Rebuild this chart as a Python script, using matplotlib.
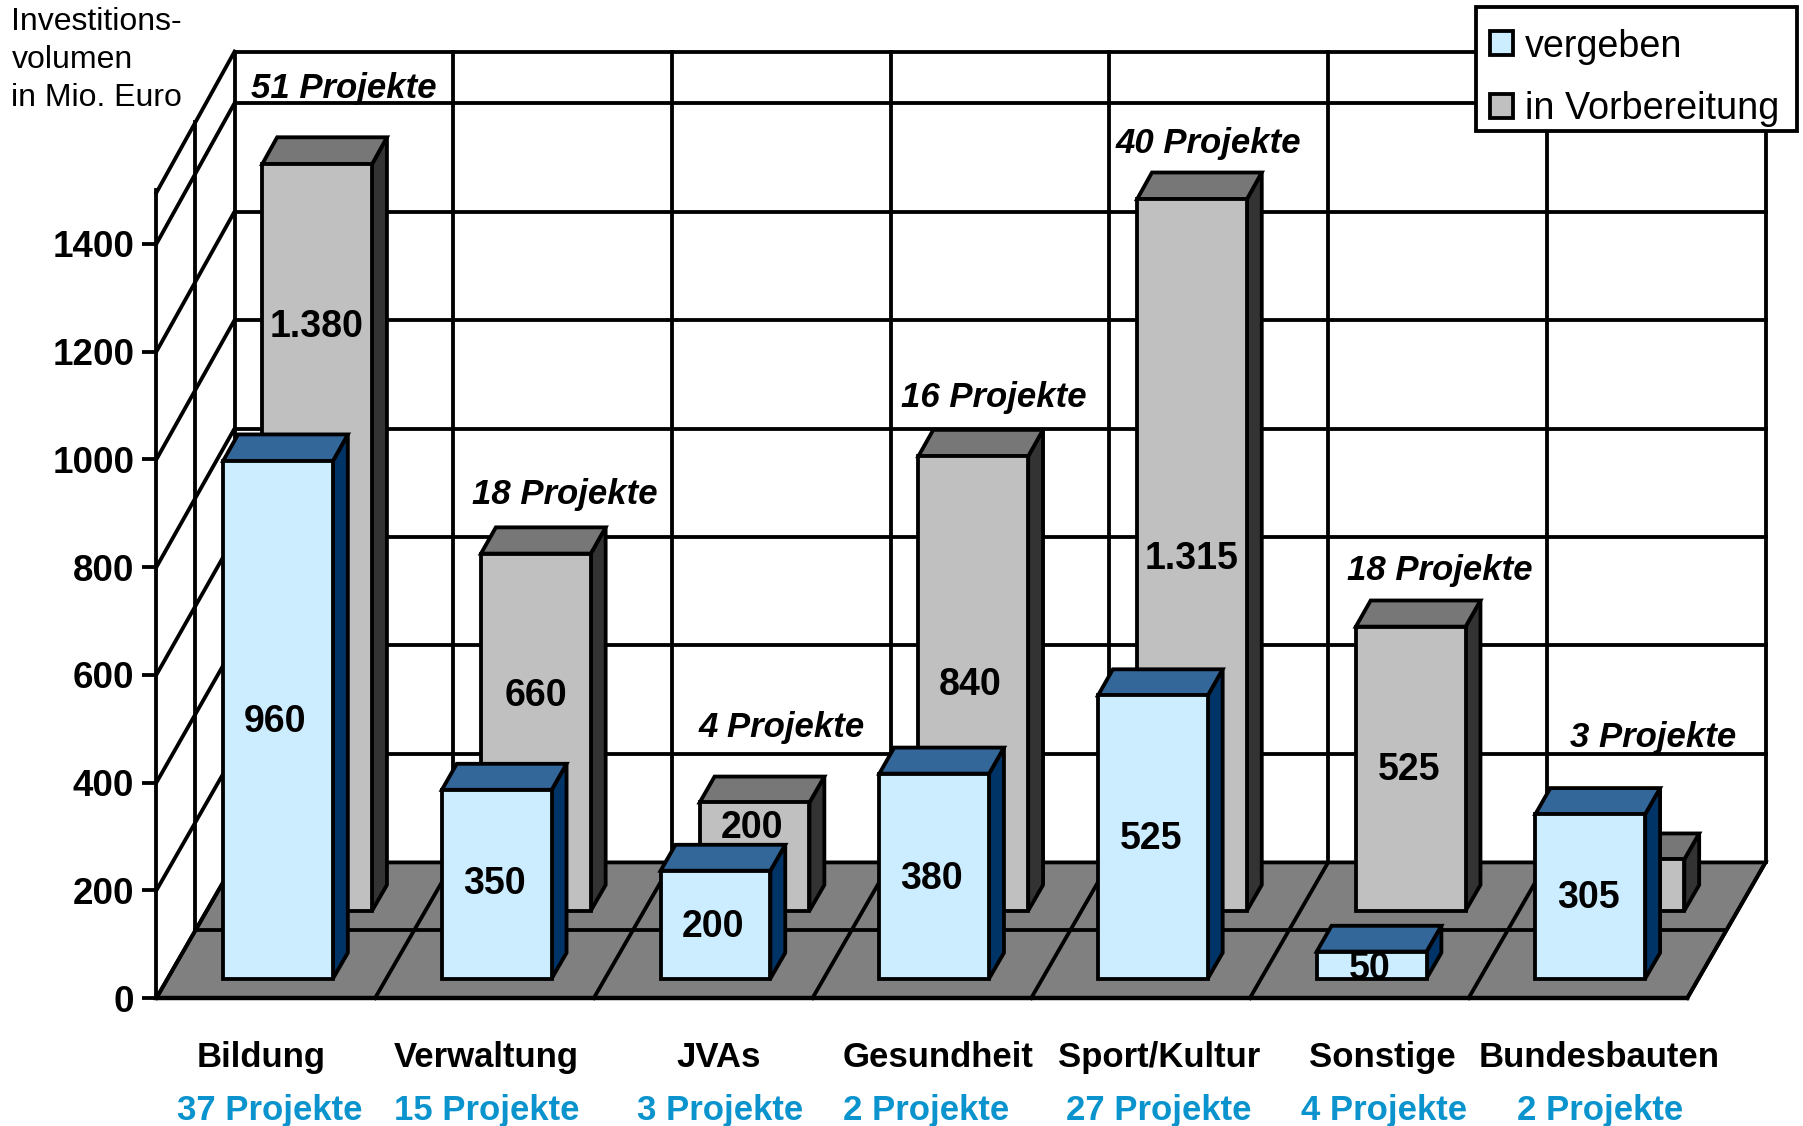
import matplotlib
matplotlib.use("Agg")
import matplotlib.pyplot as plt
from matplotlib.patches import Patch, Polygon, Rectangle

# ── Daten ─────────────────────────────────────────────────────────────────────

categories = ["Bildung", "Verwaltung", "JVAs", "Gesundheit",
              "Sport/Kultur", "Sonstige", "Bundesbauten"]
vergeben = [960, 350, 200, 380, 525, 50, 305]
vorbereitung = [1380, 660, 200, 840, 1315, 525, 95]
vergeben_labels = ["960", "350", "200", "380", "525", "50", "305"]
vorbereitung_labels = ["1.380", "660", "200", "840", "1.315", "525", ""]
projekte_vergeben = ["37 Projekte", "15 Projekte", "3 Projekte", "2 Projekte",
                     "27 Projekte", "4 Projekte", "2 Projekte"]
projekte_vorb = ["51 Projekte", "18 Projekte", "4 Projekte", "16 Projekte",
                 "40 Projekte", "18 Projekte", "3 Projekte"]
y_ticks = [0, 200, 400, 600, 800, 1000, 1200, 1400]

# ── Layout (Pixel im 1568er Bild) ─────────────────────────────────────────────

W, H, S = 1803, 1126, 1803 / 1568
CAT_PX, VAL_PX = 190.2, 0.4685
DEPTH_X, DEPTH_Y = 68 / CAT_PX, 118 / VAL_PX
PERSP = 0.0068      # hintere Ebene minimal höher skaliert
LW = 2.75
TOP = 1495

cat_label_x = [227, 423, 625, 816, 1008, 1202, 1391]
sub_label_x = [235, 423, 626, 805, 1008, 1204, 1392]
front_val_xy = [(239, 628), (430, 769), (620, 806), (810, 764), (1001, 730), (1191, 843), (1381, 781)]
back_val_xy = [(275, 284), (466, 605), (654, 720), (844, 596), (1036, 486), (1225, 670), (0, 0)]
top_label_xy = [(299, 77), (491, 430), (680, 633), (864, 346), (1051, 125), (1252, 496), (1438, 641)]

plt.rcParams["font.family"] = ["Liberation Sans", "DejaVu Sans"]

fig = plt.figure(figsize=(W / 100, H / 100), dpi=100, facecolor="white")
ax = fig.add_axes([136 * S / W, 1 - 868 * S / H, 7 * CAT_PX * S / W, 1500 * VAL_PX * S / H])
ax.set_xlim(0, 7)
ax.set_ylim(0, 1500)
ax.patch.set_visible(False)


def proj(x, v, d):
    """Kategorie x, Wert v, Tiefe d (0 vorne, 1 hinten) -> Datenkoordinaten."""
    return x + d * DEPTH_X, v * (1 + PERSP * d) + d * DEPTH_Y


def line(p, q, lw=LW, z=2):
    ax.plot([p[0], q[0]], [p[1], q[1]], color="black", lw=lw, zorder=z,
            clip_on=False, solid_capstyle="projecting")


def poly(pts, fc, z):
    ax.add_patch(Polygon(pts, closed=True, facecolor=fc, edgecolor="black", lw=LW,
                         joinstyle="miter", clip_on=False, zorder=z))


def bar3d(i, value, d0, front, top, side, z):
    x0, x1 = i + 0.254, i + 0.756
    d1 = d0 + 0.19
    poly([proj(x1, 0, d0), proj(x1, 0, d1), proj(x1, value, d1), proj(x1, value, d0)], side, z)
    poly([proj(x0, value, d0), proj(x0, value, d1), proj(x1, value, d1), proj(x1, value, d0)], top, z)
    poly([proj(x0, 0, d0), proj(x1, 0, d0), proj(x1, value, d0), proj(x0, value, d0)], front, z + 0.1)


def px_text(x, y, s, **kw):
    fig.text(x * S / W, 1 - y * S / H, s, ha="center", va="center", **kw)


# ── Boden und Gitter ──────────────────────────────────────────────────────────

poly([proj(0, 0, 0), proj(7, 0, 0), proj(7, 0, 1), proj(0, 0, 1)], "#808080", 1)

for v in y_ticks[1:] + [TOP]:
    line(proj(0, v, 0), proj(0, v, 1))
    line(proj(0, v, 1), proj(7, v, 1))
for i in range(8):
    line(proj(i, 0, 0), proj(i, 0, 1))
    line(proj(i, 0, 1), proj(i, TOP, 1))
line(proj(0, 0, 0.5), proj(7, 0, 0.5))
line(proj(0, 0, 0.5), proj(0, TOP, 0.5))
line(proj(0, 0, 0), proj(7, 0, 0), lw=3.2)

# ── Säulen ────────────────────────────────────────────────────────────────────

for i, v in enumerate(vorbereitung):
    bar3d(i, v, 0.644, "#C0C0C0", "#777777", "#333333", 3 + i * 0.2)
for i, v in enumerate(vergeben):
    bar3d(i, v, 0.144, "#CCECFF", "#336699", "#003366", 5 + i * 0.2)

# ── Achse ─────────────────────────────────────────────────────────────────────

for name in ("top", "right", "bottom"):
    ax.spines[name].set_visible(False)
ax.spines["left"].set_linewidth(LW)
ax.set_xticks([])
ax.set_yticks(y_ticks)
ax.tick_params(axis="y", length=10, width=LW, pad=6, labelsize=26.5)
for lab in ax.get_yticklabels():
    lab.set_fontweight("bold")

# ── Texte ─────────────────────────────────────────────────────────────────────

for x, s in zip(cat_label_x, categories):
    px_text(x, 920, s, fontsize=25, fontweight="bold", color="black")
for x, s in zip(sub_label_x, projekte_vergeben):
    px_text(x, 966, s, fontsize=25, fontweight="bold", color="#0A93CC")
for (x, y), s in zip(front_val_xy, vergeben_labels):
    px_text(x, y, s, fontsize=27, fontweight="bold", zorder=20)
for (x, y), s in zip(back_val_xy, vorbereitung_labels):
    if s:
        px_text(x, y, s, fontsize=27, fontweight="bold", zorder=20)
for (x, y), s in zip(top_label_xy, projekte_vorb):
    px_text(x, y, s, fontsize=25, fontweight="bold", fontstyle="italic", zorder=20)

fig.text(10 * S / W, 1 - 52 * S / H, "Investitions-\nvolumen\nin Mio. Euro",
         ha="left", va="center", fontsize=23, linespacing=1.34)

# ── Legende ───────────────────────────────────────────────────────────────────

# Rahmen separat, der Inhalt sitzt im Original nicht mittig
fig.add_artist(Rectangle((1284 * S / W, 1 - 114 * S / H), 279 * S / W, 108 * S / H,
                         transform=fig.transFigure, facecolor="white",
                         edgecolor="black", lw=LW, zorder=25))

handles = [Patch(facecolor="#CCECFF", edgecolor="black", lw=LW, label="vergeben"),
           Patch(facecolor="#C0C0C0", edgecolor="black", lw=LW, label="in Vorbereitung")]
leg = fig.legend(handles=handles, loc="upper left", frameon=False,
                 bbox_to_anchor=(1296 * S / W, 1 - 25 * S / H),
                 bbox_transform=fig.transFigure, borderaxespad=0, fontsize=27.2,
                 handlelength=0.6, handleheight=0.6, handletextpad=0.32,
                 labelspacing=0.7, borderpad=0)
leg.set_zorder(30)

fig.savefig("out.png", dpi=100)
